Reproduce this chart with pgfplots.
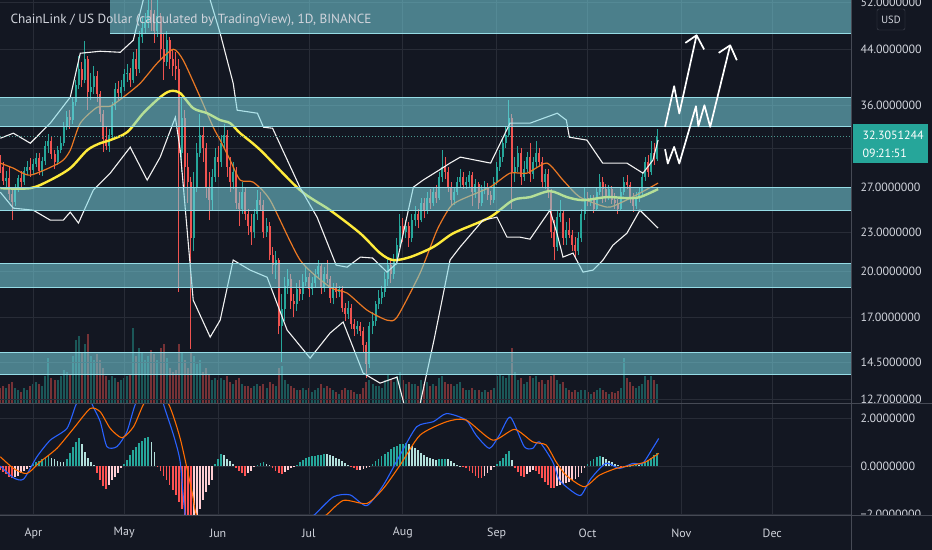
\documentclass[border=0pt]{standalone}
\usepackage{pgfplots}
\pgfplotsset{compat=1.18}
\usepackage{pgfplotstable}
\usepackage{fontspec}
\setmainfont{PT Sans}
\definecolor{bg}{RGB}{19,23,34}
\definecolor{gridc}{RGB}{40,44,55}
\definecolor{upc}{RGB}{38,166,154}
\definecolor{dnc}{RGB}{239,83,80}
\definecolor{zonef}{RGB}{121,214,227}
\definecolor{zonel}{RGB}{150,220,230}
\definecolor{lblc}{RGB}{209,212,220}
\definecolor{yel}{RGB}{255,235,59}
\definecolor{orn}{RGB}{235,120,35}
\definecolor{mblue}{RGB}{41,98,255}
\definecolor{morange}{RGB}{255,109,0}
\definecolor{hteal}{RGB}{38,166,154}
\definecolor{hlteal}{RGB}{178,223,219}
\definecolor{hlred}{RGB}{255,205,210}
\definecolor{hred}{RGB}{255,82,82}
\definecolor{sepc}{RGB}{70,74,85}
\newcommand\lbl{\fontsize{12}{14}\selectfont}
\def\cfirst#1#2\cfend{#1}
\newcommand\keepif[1]{% keep point when test #1 is true
  \let\xsv\pgfmathresult
  \pgfmathparse{#1}%
  \edef\tmpf{\expandafter\cfirst\pgfmathresult\cfend}%
  \if\tmpf0\def\pgfmathresult{inf}\else\let\pgfmathresult\xsv\fi}

\pgfplotstableread{
d o h l c v
-11 29.6 30.2 28.4 29.0 4.0
-10 29.0 29.5 27.2 27.6 4.5
-9 27.6 28.6 26.8 27.9 4.0
-8 27.9 29.0 25.8 26.3 5.0
-7 26.3 26.8 24.0 25.6 5.5
-6 25.6 27.3 25.2 27.0 4.0
-5 27.0 28.2 26.5 27.9 3.5
-4 27.9 28.6 27.0 27.5 3.0
-3 27.5 29.0 27.2 28.6 4.0
-2 28.6 29.6 28.2 29.0 3.5
-1 29.0 29.9 28.0 28.7 4.5
0 28.7 29.8 28.3 29.3 5.0
1 29.3 30.5 29.0 29.9 5.5
2 29.9 30.4 28.2 28.6 5.0
3 28.6 30.0 28.1 29.6 4.5
4 29.6 31.8 29.2 31.2 7.0
5 31.2 32.6 30.5 31.8 11.5
6 31.8 32.2 29.8 30.3 6.5
7 30.3 30.8 28.8 29.5 6.0
8 29.5 31.2 29.2 30.8 6.0
9 30.8 32.3 30.4 31.5 7.0
10 31.5 34.0 31.2 33.5 8.5
11 33.5 35.3 33.0 34.6 8.0
12 34.6 35.5 33.2 34.2 7.5
13 34.2 37.2 33.8 36.5 12.0
14 36.5 39.5 36.0 38.8 16.0
15 38.8 43.0 38.2 41.0 17.0
16 41.0 42.0 38.5 39.5 13.0
17 39.5 45.3 39.0 42.5 15.0
18 42.5 43.0 35.5 37.8 17.5
19 37.8 40.5 36.8 38.5 12.0
20 38.5 41.5 37.5 40.0 11.0
21 40.0 40.8 36.5 37.5 12.5
22 37.5 38.0 34.0 35.0 11.0
23 35.0 35.5 30.6 32.0 9.0
24 32.0 33.5 30.8 31.2 7.0
25 31.2 33.2 30.6 32.5 6.0
26 32.5 36.5 32.0 36.0 7.0
27 36.0 39.0 35.5 38.2 6.5
28 38.2 39.3 36.8 37.7 5.5
29 37.7 39.5 37.0 38.5 6.0
30 38.5 41.0 38.0 40.3 6.5
31 40.3 41.8 39.2 40.5 7.0
32 40.5 41.2 38.5 39.5 7.5
33 39.5 43.5 39.0 42.5 19.0
34 42.5 44.0 40.0 41.0 12.0
35 41.0 47.0 40.5 46.0 14.0
36 46.0 49.5 45.0 47.5 13.0
37 47.5 50.0 46.5 48.5 11.0
38 48.5 53.5 47.5 50.5 12.0
39 50.5 53.0 47.0 49.0 13.5
40 49.0 50.5 45.0 47.0 12.5
41 47.0 52.5 46.0 49.5 11.0
42 49.5 50.0 42.5 44.0 14.0
43 44.0 46.5 39.5 42.0 15.0
44 42.0 47.0 41.5 45.5 11.5
45 45.5 46.0 41.0 42.5 9.0
46 42.5 44.0 40.0 41.5 8.0
47 41.5 43.5 39.5 41.0 8.5
48 41.0 42.5 18.6 30.5 15.0
49 30.5 37.0 28.5 34.5 13.0
50 34.5 35.5 27.0 29.0 11.0
51 29.0 30.5 25.5 27.5 9.0
52 27.5 28.0 15.2 22.5 13.0
53 22.5 28.5 21.5 27.0 12.0
54 27.0 31.5 26.5 30.5 10.0
55 30.5 35.0 30.0 32.5 11.0
56 32.5 33.5 29.5 31.0 8.0
57 31.0 31.5 26.0 27.0 9.0
58 27.0 28.5 24.0 25.8 7.5
59 25.8 28.8 24.8 28.0 6.0
60 28.0 31.0 27.5 30.0 6.5
61 30.0 31.2 28.0 29.5 6.0
62 29.5 32.5 29.0 31.5 6.5
63 31.5 33.8 31.0 32.5 6.0
64 32.5 33.0 28.0 29.0 7.0
65 29.0 30.0 26.5 27.5 5.5
66 27.5 29.5 26.8 28.5 5.0
67 28.5 29.0 25.0 25.5 6.0
68 25.5 26.5 23.5 25.0 6.5
69 25.0 27.5 24.5 26.5 5.0
70 26.5 27.0 24.0 24.5 4.5
71 24.5 25.0 22.8 23.5 4.5
72 23.5 24.5 22.0 23.0 4.0
73 23.0 25.0 22.5 24.5 4.5
74 24.5 26.7 24.0 25.8 5.0
75 25.8 26.5 24.8 25.3 4.5
76 25.3 25.8 22.5 23.0 5.0
77 23.0 24.2 22.6 23.5 4.0
78 23.5 23.8 20.8 21.2 5.5
79 21.2 21.8 19.8 20.5 5.0
80 20.5 21.5 19.5 20.8 4.5
81 20.8 21.0 16.0 16.5 9.0
82 16.5 18.5 14.5 17.5 9.5
83 17.5 19.6 16.8 19.0 6.0
84 19.0 20.2 18.5 19.5 5.0
85 19.5 19.8 17.5 18.0 4.5
86 18.0 18.5 17.0 17.8 4.0
87 17.8 19.2 17.4 18.8 3.5
88 18.8 19.4 18.0 18.5 3.5
89 18.5 19.8 18.1 19.3 4.0
90 19.3 20.3 19.0 19.6 3.5
91 19.6 19.9 18.3 18.8 4.0
92 18.8 19.6 18.4 19.2 3.0
93 19.2 20.2 18.9 19.8 3.5
94 19.8 20.8 19.5 20.4 4.0
95 20.4 20.6 18.5 18.9 5.0
96 18.9 20.3 18.6 19.8 4.0
97 19.8 20.8 19.2 19.5 4.5
98 19.5 19.7 17.9 18.2 4.0
99 18.2 19.2 17.8 18.9 3.5
100 18.9 19.2 18.2 18.6 3.0
101 18.6 19.0 18.3 18.8 2.5
102 18.8 19.0 17.3 17.6 3.5
103 17.6 17.9 16.8 17.2 4.0
104 17.2 18.0 16.9 17.6 3.5
105 17.6 17.8 16.3 16.6 3.5
106 16.6 16.9 15.9 16.3 3.0
107 16.3 16.8 16.0 16.5 2.5
108 16.5 16.7 15.9 16.2 2.5
109 16.2 16.4 15.0 15.4 4.0
110 15.4 15.6 13.7 14.4 5.5
111 14.4 16.7 14.2 16.5 6.0
112 16.5 17.3 16.0 16.8 5.0
113 16.8 18.0 16.5 17.8 4.5
114 17.8 18.7 17.5 18.2 4.5
115 18.2 19.0 17.8 18.6 4.0
116 18.6 20.0 18.3 19.5 6.0
117 19.5 21.0 19.0 20.5 7.5
118 20.5 21.0 19.2 19.8 6.0
119 19.8 21.3 19.5 20.8 5.5
120 20.8 22.5 20.5 22.0 7.0
121 22.0 24.5 21.8 23.5 8.0
122 23.5 24.2 22.2 23.0 6.0
123 23.0 24.0 22.5 23.5 5.0
124 23.5 23.8 21.8 22.5 5.5
125 22.5 24.5 22.2 24.0 5.0
126 24.0 25.2 23.5 24.5 5.0
127 24.5 25.0 23.3 24.0 4.5
128 24.0 26.0 23.8 25.5 6.0
129 25.5 26.0 24.2 24.8 5.0
130 24.8 26.5 24.5 26.0 5.5
131 26.0 26.8 25.0 25.5 4.5
132 25.5 27.0 25.2 26.5 5.0
133 26.5 27.2 25.5 26.0 4.5
134 26.0 28.5 25.8 28.0 6.5
135 28.0 30.8 27.5 29.0 7.0
136 29.0 30.0 27.8 28.5 5.5
137 28.5 29.0 26.5 27.0 5.0
138 27.0 27.5 25.2 25.8 5.0
139 25.8 27.0 25.3 26.5 4.5
140 26.5 28.0 26.2 27.5 5.0
141 27.5 28.8 27.0 28.0 5.5
142 28.0 28.5 26.8 27.2 4.0
143 27.2 28.0 26.8 27.5 3.5
144 27.5 28.6 27.0 28.2 3.5
145 28.2 28.5 25.2 26.5 4.0
146 26.5 27.8 26.0 27.3 3.5
147 27.3 27.5 25.0 25.5 3.5
148 25.5 27.2 25.2 26.8 3.0
149 26.8 27.6 26.3 27.0 3.5
150 27.0 27.4 25.8 26.2 3.0
151 26.2 26.6 25.3 25.8 3.5
152 25.8 28.0 25.5 27.5 4.0
153 27.5 29.5 27.2 29.0 7.0
154 29.0 30.8 28.6 30.0 7.5
155 30.0 32.0 29.5 31.5 7.0
156 31.5 33.5 31.0 32.5 6.5
157 32.5 36.7 32.2 34.5 7.5
158 34.5 35.0 25.0 28.5 14.0
159 28.5 30.0 27.5 29.0 8.0
160 29.0 31.2 28.5 30.5 6.0
161 30.5 31.0 27.2 28.0 6.5
162 28.0 29.6 27.6 28.8 5.0
163 28.8 30.6 28.5 30.0 5.5
164 30.0 31.5 27.5 28.3 7.0
165 28.3 30.0 27.8 29.5 6.5
166 29.5 31.8 29.0 30.5 7.0
167 30.5 31.0 29.0 29.5 5.5
168 29.5 30.0 27.0 27.5 6.0
169 27.5 28.8 26.8 28.3 5.0
170 28.3 28.8 26.0 26.5 6.0
171 26.5 26.8 22.5 23.0 7.0
172 23.0 24.0 20.8 21.8 7.5
173 21.8 24.8 21.5 24.3 6.0
174 24.3 25.8 23.8 24.6 5.0
175 24.6 24.9 22.0 22.5 5.5
176 22.5 23.8 22.0 23.2 4.0
177 23.2 24.2 22.5 22.8 3.5
178 22.8 23.2 21.5 22.0 3.0
179 22.0 22.6 21.0 21.5 3.5
180 21.5 23.0 21.2 22.5 3.0
181 22.5 25.0 22.2 24.5 3.5
182 24.5 27.0 24.0 26.0 3.5
183 26.0 26.5 25.2 25.6 3.0
184 25.6 26.2 25.2 25.9 2.5
185 25.9 26.2 24.6 25.0 3.0
186 25.0 27.0 24.8 26.5 3.5
187 26.5 28.3 26.2 27.5 4.0
188 27.5 28.0 25.5 26.8 3.5
189 26.8 27.3 25.6 26.0 3.0
190 26.0 27.2 25.8 26.8 2.5
191 26.8 27.1 25.4 25.8 3.0
192 25.8 26.4 25.0 25.5 2.8
193 25.5 25.9 24.5 25.0 3.2
194 25.0 27.0 24.8 26.5 4.0
195 26.5 28.0 26.2 27.5 11.5
196 27.5 28.2 26.8 27.2 6.5
197 27.2 27.5 25.5 26.0 5.5
198 26.0 26.4 24.7 25.2 4.5
199 25.2 26.5 25.0 26.0 4.0
200 26.0 27.0 25.6 26.5 4.5
201 26.5 28.5 26.2 28.0 5.0
202 28.0 30.0 27.6 29.5 7.0
203 29.5 30.2 28.0 28.5 6.0
204 28.5 31.8 28.2 30.5 7.0
205 30.5 31.5 29.2 29.8 6.0
206 29.8 33.2 29.6 32.3 5.0
}\candles

\pgfplotstableread{
d m k
-11 -0.15 3
-10 -0.25 3
-9 -0.35 3
-8 -0.45 3
-7 -0.50 3
-6 -0.45 2
-5 -0.40 2
-4 -0.30 2
-3 -0.20 2
-2 -0.12 2
-1 -0.05 2
0 0.08 0
1 0.15 0
2 0.22 0
3 0.30 0
4 0.36 0
5 0.40 0
6 0.35 1
7 0.28 1
8 0.22 1
9 0.18 1
10 0.15 1
11 0.30 0
12 0.55 0
13 0.80 0
14 1.00 0
15 1.15 0
16 0.90 1
17 0.60 1
18 0.35 1
19 0.15 1
20 0.05 1
21 -0.30 3
22 -0.60 3
23 -0.85 3
24 -0.97 3
25 -0.80 2
26 -0.60 2
27 -0.45 2
28 -0.30 2
29 -0.10 2
30 0.10 0
31 0.25 0
32 0.45 0
33 0.65 0
34 0.80 0
35 0.95 0
36 1.05 0
37 1.15 0
38 1.20 0
39 1.00 1
40 0.60 1
41 -0.05 3
42 -0.20 3
43 -0.40 3
44 -0.60 3
45 -0.80 3
46 -1.00 3
47 -1.20 3
48 -1.50 3
49 -1.80 3
50 -2.20 3
51 -2.50 3
52 -2.60 3
53 -2.40 2
54 -2.10 2
55 -1.80 2
56 -1.40 2
57 -1.10 2
58 -0.80 2
59 -0.60 2
60 0.10 0
61 0.30 0
62 0.50 0
63 0.45 1
64 0.30 1
65 0.20 1
66 0.10 1
67 -0.10 3
68 -0.20 3
69 -0.30 3
70 -0.40 3
71 -0.30 2
72 -0.20 2
73 -0.05 2
74 0.05 0
75 0.12 0
76 0.15 0
77 0.10 1
78 0.05 1
79 -0.10 3
80 -0.20 3
81 -0.30 3
82 -0.35 3
83 -0.25 2
84 -0.15 2
85 -0.08 2
86 -0.02 2
87 0.05 0
88 0.15 0
89 0.25 0
90 0.32 0
91 0.38 0
92 0.40 0
93 0.42 0
94 0.45 0
95 0.48 0
96 0.50 0
97 0.50 1
98 0.45 1
99 0.40 1
100 0.35 1
101 0.28 1
102 0.20 1
103 0.12 1
104 0.05 1
105 -0.05 3
106 -0.10 3
107 -0.15 3
108 -0.15 2
109 -0.12 2
110 -0.08 2
111 -0.03 2
112 0.10 0
113 0.20 0
114 0.30 0
115 0.40 0
116 0.50 0
117 0.60 0
118 0.70 0
119 0.78 0
120 0.85 0
121 0.90 0
122 0.92 0
123 0.95 0
124 0.90 1
125 0.85 1
126 0.75 1
127 0.65 1
128 0.55 1
129 0.45 1
130 0.38 1
131 0.32 1
132 0.28 1
133 0.25 1
134 0.28 0
135 0.30 0
136 0.30 0
137 0.28 1
138 0.20 1
139 0.12 1
140 0.06 1
141 0.02 1
142 -0.03 3
143 -0.10 3
144 -0.20 3
145 -0.30 3
146 -0.40 3
147 -0.48 3
148 -0.51 3
149 -0.40 2
150 -0.30 2
151 -0.15 2
152 -0.05 2
153 0.10 0
154 0.20 0
155 0.35 0
156 0.50 0
157 0.64 0
158 0.25 1
159 -0.10 3
160 -0.25 3
161 -0.40 3
162 -0.45 3
163 -0.35 2
164 -0.25 2
165 -0.15 2
166 -0.20 3
167 -0.35 3
168 -0.50 3
169 -0.65 3
170 -0.80 3
171 -0.90 3
172 -0.92 3
173 -0.85 2
174 -0.80 2
175 -0.75 2
176 -0.70 2
177 -0.65 2
178 -0.60 2
179 -0.55 2
180 -0.45 2
181 -0.30 2
182 -0.10 2
183 0.10 0
184 0.20 0
185 0.30 0
186 0.38 0
187 0.40 0
188 0.38 1
189 0.30 1
190 0.22 1
191 0.15 1
192 0.08 1
193 0.03 1
194 -0.03 3
195 -0.04 3
196 -0.02 2
197 0.02 0
198 0.04 0
199 0.05 0
200 0.03 1
201 0.08 0
202 0.15 0
203 0.25 0
204 0.35 0
205 0.45 0
206 0.55 0
}\hist

\pgfplotsset{
  candup/.style={x filter/.append code={\keepif{\thisrow{c}>=\thisrow{o}}}},
  canddn/.style={x filter/.append code={\keepif{\thisrow{c}<\thisrow{o}}}},
  hcls/.style={x filter/.append code={\keepif{abs(\thisrow{k}-#1)<0.5}}},
  pane/.style={scale only axis, width=851bp, xmin=-11, xmax=270, anchor=south west,
    axis line style={draw=none}, major tick length=0pt,
    xtick={0,30,61,91,122,153,183,214,244}, grid=major,
    grid style={draw=gridc, line width=0.8bp},
    yticklabel pos=right,
    yticklabel style={font=\lbl, text=lblc, anchor=west, xshift=6bp}},
}
\pgfplotstablegetrowsof{\candles}
\pgfmathtruncatemacro\nlast{\pgfplotsretval-1}

\begin{document}
\begin{tikzpicture}
\useasboundingbox (0bp,0bp) rectangle (932bp,550bp);
\fill[bg] (0bp,0bp) rectangle (932bp,550bp);

% volume
\begin{axis}[scale only axis, width=851bp, height=404bp, at={(0bp,146bp)}, anchor=south west,
  xmin=-11, xmax=270, ymin=0, ymax=101, axis lines=none]
\addplot[ycomb, draw=upc, draw opacity=0.45, line width=2bp, mark=none, candup] table[x=d,y=v]{\candles};
\addplot[ycomb, draw=dnc, draw opacity=0.45, line width=2bp, mark=none, canddn] table[x=d,y=v]{\candles};
\end{axis}

% price pane: prices are plotted on a logarithmic scale (the y filter takes their logarithm)
\begin{axis}[pane, at={(0bp,146bp)}, height=404bp,
  y filter/.expression={ln(y)},
  ymin=2.5257, ymax=3.9589,
  xticklabels={{},{},{},{},{},{},{},{},{}},
  ytick={2.5416,2.6741,2.8332,2.9957,3.1355,3.2958,3.4340,3.5835,3.7842,3.9512},
  yticklabels={12.7000000,14.5000000,17.0000000,20.0000000,23.0000000,27.0000000,{},36.0000000,44.0000000,52.0000000}]
% candles, one per table row
\pgfplotsforeachungrouped \i in {0,...,\nlast}{%
  \pgfplotstablegetelem{\i}{d}\of\candles\let\cD\pgfplotsretval
  \pgfplotstablegetelem{\i}{o}\of\candles\let\cO\pgfplotsretval
  \pgfplotstablegetelem{\i}{h}\of\candles\let\cH\pgfplotsretval
  \pgfplotstablegetelem{\i}{l}\of\candles\let\cL\pgfplotsretval
  \pgfplotstablegetelem{\i}{c}\of\candles\let\cC\pgfplotsretval
  \ifdim\cC pt<\cO pt\def\cCol{dnc}\else\def\cCol{upc}\fi
  \edef\doit{%
    \noexpand\addplot[draw=\cCol, line width=0.8bp, forget plot] coordinates {(\cD,\cL) (\cD,\cH)};
    \noexpand\addplot[draw=\cCol, line width=2bp, forget plot] coordinates {(\cD,\cO) (\cD,\cC)};}%
  \doit
}
% orange MA
\addplot[orn, line width=1.2bp, smooth, tension=0.4] coordinates {
(-10.9,29.38) (-6.6,28.86) (-1,28.15) (9.0,29.48) (12.2,30.76) (15.5,33.85) (21.1,35.82) (25.4,35.95) (29.7,37.12) (35.3,39.0) (40.9,41.88) (46.2,44.0) (49.5,42.32) (55.1,37.12) (59.4,33.37) (61.7,31.88) (65.0,29.69) (68.3,27.66) (72.6,27.46) (78.2,25.76) (88.1,20.83) (98.0,18.92) (103.6,18.53) (110.2,17.44) (116.8,16.83) (120.1,17.01) (127.7,19.89) (133.3,23.16) (137.6,25.13) (140.9,25.76) (150.8,26.98) (157.4,28.35) (163.0,28.35) (169.6,29.38) (174.9,27.66) (180.5,26.04) (189.4,25.13) (193.7,25.49) (200.3,26.41) (206.3,27.37)};
% yellow MA
\addplot[yel, line width=2.4bp, smooth, tension=0.5] coordinates {
(-10.9,26.88) (-1,26.88) (5.6,27.66) (12.2,28.86) (17.8,30.76) (22.1,31.53) (25.4,31.88) (31.0,32.79) (36.3,35.07) (41.9,37.12) (45.2,37.93) (48.5,37.66) (52.8,35.70) (57.4,35.07) (61.7,34.22) (65.0,33.85) (68.3,32.67) (75.0,30.76) (88.1,26.69) (98.0,24.86) (107.9,22.91) (114.5,21.35) (118.8,20.83) (124.4,21.05) (132.0,21.81) (137.6,22.75) (140.9,23.16) (150.8,24.25) (158.4,25.76) (164.0,26.04) (170.6,26.60) (176.2,26.04) (181.5,25.76) (189.4,26.04) (196.0,25.95) (200.3,26.04) (206.3,26.79)};
% Bollinger upper
\addplot[white!90!gray, line width=1.1bp] coordinates {
(-10.9,32.09) (-6.6,32.67) (-1,31.53) (5.6,33.85) (12.2,37.12) (15.5,43.38) (22.1,43.69) (28.7,43.53) (33.0,45.42) (36.3,52.4) (40,60) (48,62) (55,58) (58.4,52.4) (61.7,46.56) (66.0,39.0) (67.3,35.45) (74,35.07) (76,33.37) (79,33.25) (88,26.98) (93.7,24.25) (100,20.46) (103.6,20.31) (108,21.05) (112,20.98) (116.8,19.96) (120,20.6) (125.5,26.98) (128.7,27.66) (134,28.66) (137.6,29.38) (141,30.01) (151,29.38) (157.4,33.85) (164,33.85) (173,35.07) (176,34.22) (177,32.21) (182.8,31.88) (188,29.38) (196,29.38) (201.3,28.35) (204.6,29.69) (206.3,31.88)};
% Bollinger lower
\addplot[white!90!gray, line width=1.1bp] coordinates {
(-10.9,26.50) (-6.6,25.04) (0,24.86) (5.6,24.00) (9.9,24.00) (12.2,24.69) (14.9,23.75) (19.8,26.69) (25.4,28.35) (32.0,31.09) (37.6,27.66) (41.9,30.01) (46.9,34.57) (48.5,30.76) (52.8,18.07) (58.4,15.85) (61.7,16.83) (66.0,20.83) (71.6,20.10) (77.2,19.60) (83.8,16.25) (91.4,14.71) (98.0,16.08) (102.3,16.72) (108.9,13.95) (114.5,13.46) (120.1,13.75) (122.4,12.5) (124.4,11.8) (126,11.5) (127.7,12.5) (132.3,15.68) (134.3,17.44) (137.6,20.83) (140.9,21.81) (148.5,24.00) (153.1,24.25) (156.4,22.59) (160.7,22.59) (164.0,22.43) (170.6,24.86) (172.9,22.91) (174.9,21.05) (178.2,21.35) (181.5,19.96) (184.8,20.10) (188.1,20.83) (191.4,21.96) (196.0,22.91) (200.3,24.86) (203.6,24.00) (206.3,23.33)};
% zones
\addplot[fill=zonef, fill opacity=0.55, draw=none] coordinates {(25.4,46.6) (270,46.6) (270,60) (25.4,60) (25.4,46.6)};
\addplot[fill=zonef, fill opacity=0.55, draw=none] coordinates {(-11,33.5) (270,33.5) (270,37.1) (-11,37.1) (-11,33.5)};
\addplot[fill=zonef, fill opacity=0.55, draw=none] coordinates {(-11,24.8) (270,24.8) (270,26.98) (-11,26.98) (-11,24.8)};
\addplot[fill=zonef, fill opacity=0.55, draw=none] coordinates {(-11,18.9) (270,18.9) (270,20.6) (-11,20.6) (-11,18.9)};
\addplot[fill=zonef, fill opacity=0.55, draw=none] coordinates {(-11,13.9) (270,13.9) (270,15.03) (-11,15.03) (-11,13.9)};
\addplot[zonel, line width=1bp] coordinates {(25.4,46.6) (270,46.6)};
\addplot[zonel, line width=1bp] coordinates {(-11,33.5) (270,33.5)};
\addplot[zonel, line width=1bp] coordinates {(-11,37.1) (270,37.1)};
\addplot[zonel, line width=1bp] coordinates {(-11,24.8) (270,24.8)};
\addplot[zonel, line width=1bp] coordinates {(-11,26.98) (270,26.98)};
\addplot[zonel, line width=1bp] coordinates {(-11,18.9) (270,18.9)};
\addplot[zonel, line width=1bp] coordinates {(-11,20.6) (270,20.6)};
\addplot[zonel, line width=1bp] coordinates {(-11,13.9) (270,13.9)};
\addplot[zonel, line width=1bp] coordinates {(-11,15.03) (270,15.03)};
% last price line
\addplot[upc!60!gray, line width=0.8bp, dash pattern=on 1bp off 2bp] coordinates {(-11,32.3) (270,32.3)};
% projection arrows
\addplot[white, line width=1.7bp, line join=round] coordinates {(208.6,33.41) (211.6,38.60) (213.3,35.04) (219.0,46.24)};
\addplot[white, line width=1.7bp, line join=round] coordinates {(215.3,45.0) (219.0,46.24) (221.5,43.97)};
\addplot[white, line width=1.7bp, line join=round] coordinates {(208.6,30.87) (209.5,29.34) (211.6,31.12) (213.3,29.34) (218.8,35.95) (219.6,33.49) (221.6,36.08) (223.5,33.41) (230.1,44.62)};
\addplot[white, line width=1.7bp, line join=round] coordinates {(226.3,43.44) (230.1,44.62) (232.3,42.32)};
\end{axis}

% MACD pane
\begin{axis}[pane, at={(0bp,34bp)}, height=112bp, ymin=-2.08, ymax=2.587,
  ytick={-2,0,2}, yticklabels={−2.0000000,0.0000000,2.0000000},
  xticklabels={Apr,May,Jun,Jul,Aug,Sep,Oct,Nov,Dec},
  xticklabel style={font=\lbl, text=lblc, anchor=center, yshift=-17bp}]
\addplot[ycomb, draw=hteal, line width=1.8bp, mark=none, hcls=0] table[x=d,y=m]{\hist};
\addplot[ycomb, draw=hlteal, line width=1.8bp, mark=none, hcls=1] table[x=d,y=m]{\hist};
\addplot[ycomb, draw=hlred, line width=1.8bp, mark=none, hcls=2] table[x=d,y=m]{\hist};
\addplot[ycomb, draw=hred, line width=1.8bp, mark=none, hcls=3] table[x=d,y=m]{\hist};
\addplot[mblue, line width=1.1bp, smooth, tension=0.4] coordinates {
(-10.9,0.0) (-6.5,-0.49) (-3.2,-0.54) (1.2,0.39) (5.6,1.08) (11.1,1.57) (13.9,2.5) (16.5,3.2) (18.5,3.0) (19.4,2.58) (22.1,1.85) (24.3,0.81) (27.6,0.81) (30.9,1.43) (33.7,2.58) (38,3.6) (42,3.4) (43,2.58) (46.3,1.29) (48.5,0.18) (50.2,-2.04) (54,-3.5) (60,-3.8) (70,-3.6) (80,-3.0) (88,-2.5) (92.5,-2.07) (99.1,-1.28) (104.6,-1.2) (110.1,-1.65) (115.6,-0.79) (121.1,0.46) (126.6,1.64) (132.1,1.85) (136.5,2.19) (142.9,1.92) (146.2,1.29) (150.6,0.74) (153.9,1.29) (157.5,2.04) (162.1,0.81) (164.9,0.74) (167.1,1.01) (171.5,0.18) (173.7,-0.58) (178.1,-1.07) (180.9,-1.21) (184.2,-0.51) (189.1,0.12) (193.5,-0.1) (197.9,0.11) (201.2,0.11) (204.5,0.74) (206.5,1.15)};
\addplot[morange, line width=1.1bp, smooth, tension=0.4] coordinates {
(-10.9,0.39) (-6.5,-0.1) (-2.1,-0.31) (2.3,0.18) (7.8,0.74) (13.3,1.57) (18.8,2.4) (22.1,2.26) (25.4,1.57) (29.3,1.18) (33.1,1.64) (36.4,2.58) (40,3.2) (44.7,2.58) (48.5,1.15) (52.4,-1.07) (54,-2.07) (60,-3.2) (70,-3.5) (80,-3.1) (90,-2.5) (96.4,-2.07) (102.4,-1.43) (110.1,-1.56) (115.6,-0.93) (121.1,0.04) (127.7,1.29) (136.5,1.85) (142.9,1.92) (151.7,1.08) (158.9,1.53) (164.9,1.01) (169.3,0.88) (172.6,0.18) (175.9,-0.38) (181.9,-0.86) (186.9,-0.38) (192.4,-0.1) (197.9,0.04) (202.3,0.18) (206.5,0.53)};
\end{axis}

% chrome
\fill[bg] (852bp,0bp) rectangle (932bp,34bp);
\draw[sepc, line width=1bp] (0bp,146bp) -- (932bp,146bp);
\draw[sepc, line width=1bp] (0bp,34bp) -- (932bp,34bp);
\draw[sepc, line width=1bp] (851.5bp,0bp) -- (851.5bp,550bp);
\node[anchor=west, text=lblc, font=\fontsize{13.3}{15}\selectfont] at (7bp,530bp) {ChainLink / US Dollar (calculated by TradingView), 1D, BINANCE};
\node[draw=sepc, rounded corners=2bp, text=lblc, font=\fontsize{10.5}{12}\selectfont, minimum width=28bp, minimum height=21bp, inner sep=1bp] at (891bp,530.5bp) {USD};
\node[fill=upc, text=white, anchor=north west, minimum width=75bp, minimum height=39bp, inner sep=0pt] at (852.5bp,426bp) {};
\node[anchor=west, text=white, font=\lbl] at (859bp,415bp) {32.3051244};
\node[anchor=west, text=white, font=\lbl] at (859bp,397bp) {09:21:51};
\end{tikzpicture}
\end{document}
